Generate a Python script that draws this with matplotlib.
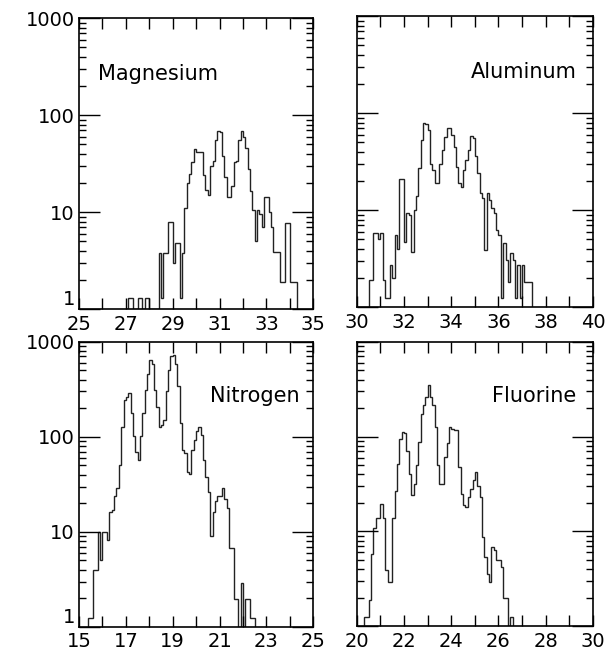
import numpy as np
import matplotlib
matplotlib.use('Agg')
import matplotlib.pyplot as plt
from matplotlib.ticker import LogLocator, NullFormatter

plt.rcParams['font.family'] = 'DejaVu Sans'

BIN = 0.1

# Magnesium, bins of 0.1 starting at 27.0
mg_start = 27.0
mg_counts = [1, 1.3, 1.3, 1, 1, 1.3, 1.3, 1, 1.3, 1.3,
             1, 1, 1, 1, 3.8, 1.3, 3.8, 3.8, 8, 8,
             3, 4.8, 4.8, 1.3, 3.8, 11, 20, 25, 33, 45,
             42, 42, 42, 24, 17, 15, 30, 34, 55, 69,
             67, 38, 23, 14.5, 14.5, 18.5, 33, 34, 56, 69,
             60, 46, 28, 16.5, 10.5, 5, 10.5, 9.5, 7, 14.5,
             14.5, 10, 7, 3.9, 3.9, 3.9, 1.9, 1.9, 7.7, 7.7,
             1.9, 1.9, 1.9]

# Aluminum, starting at 30.5
al_start = 30.5
al_counts = [1.9, 1.9, 5.8, 5.8, 5.0, 5.8, 1.9, 1.24, 1.24, 2.7,
             2.0, 5.6, 4.0, 21, 21, 4.7, 9.3, 9.0, 3.7, 10,
             14, 27, 53, 79, 78, 67, 30, 26, 19, 19,
             30, 42, 57, 70, 70, 60, 45, 28, 19, 17.5,
             26, 33, 42, 58, 55, 36, 24, 15, 13.3, 3.9,
             15, 12.8, 10.5, 9.3, 6.3, 5.6, 1.24, 4.6, 3.1, 1.84,
             3.6, 3.1, 1.24, 2.7, 1.24, 2.7, 1.84, 1.84, 1.84]

# Nitrogen, starting at 15.4
n_start = 15.4
n_counts = [1.25, 1.25, 4, 4, 10, 5, 10, 10, 8.3, 16,
            17, 24, 29, 50, 128, 244, 265, 290, 178, 101,
            70, 57, 101, 178, 310, 460, 640, 590, 310, 207,
            128, 133, 150, 300, 500, 700, 720, 590, 340, 139,
            73, 67, 43, 41, 73, 93, 114, 128, 105, 57,
            38, 26, 9, 16, 21, 24, 24, 29, 22, 18,
            6.8, 6.8, 1.95, 1.95, 1, 2.9, 1, 1.95, 1.95, 1.25,
            1.25]

# Fluorine, starting at 20.3
f_start = 20.3
f_counts = [1.25, 1.25, 1.9, 5.8, 11, 14, 14, 19.6, 14, 3.9,
            2.9, 2.9, 14, 27, 52, 95, 111, 108, 70, 40,
            24, 32, 50, 88, 174, 213, 262, 348, 262, 213,
            127, 50, 32, 32, 61, 85, 127, 121, 117, 117,
            48, 25, 18.8, 18.1, 23, 28, 35, 42, 30, 23,
            8.8, 5.4, 3.6, 2.9, 6.9, 6.3, 4.95, 4.95, 4.2, 2.0,
            2.0, 1, 1.25]

panels = [
    ('Magnesium', mg_start, mg_counts, 25, 35, (0.1295, 0.525, 0.384, 0.447), 0.08, 'left', True),
    ('Aluminum', al_start, al_counts, 30, 40, (0.585, 0.528, 0.387, 0.447), 0.93, 'right', False),
    ('Nitrogen', n_start, n_counts, 15, 25, (0.1295, 0.037, 0.384, 0.438), 0.94, 'right', True),
    ('Fluorine', f_start, f_counts, 20, 30, (0.585, 0.038, 0.387, 0.437), 0.93, 'right', False),
]

fig = plt.figure(figsize=(6.1, 6.51), dpi=100)

for name, start, counts, x0, x1, rect, tx, ha, ylab in panels:
    ax = fig.add_axes(rect)
    counts = np.array(counts, dtype=float)
    edges = np.round(start + BIN * np.arange(len(counts) + 1), 2)
    ax.stairs(counts, edges, baseline=1, color='#222222', lw=1.0)

    ax.set_yscale('log')
    ax.set_ylim(1, 1000)
    ax.set_xlim(x0, x1)

    xt = np.arange(x0, x1 + 1)
    xl = [str(v) if (v - x0) % 2 == 0 else '' for v in xt]
    ax.set_xticks(xt, xl)
    if ylab:
        ax.set_yticks([1, 10, 100, 1000], ['1', '10', '100', '1000'])
    else:
        ax.set_yticks([1, 10, 100, 1000], ['', '', '', ''])
    ax.yaxis.set_minor_locator(LogLocator(base=10, subs=np.arange(2, 10)))
    ax.yaxis.set_minor_formatter(NullFormatter())

    ax.tick_params(which='both', direction='in', top=True, right=True,
                   labelsize=14, width=1.0, color='black')
    ax.tick_params(axis='x', which='major', length=8, pad=4)
    ax.tick_params(axis='y', which='major', length=15, pad=3)
    ax.tick_params(axis='y', which='minor', length=5)
    for s in ax.spines.values():
        s.set_linewidth(1.2)

    # lift the "1" label so it clears the x tick labels
    if ylab:
        lab1 = ax.get_yticklabels()[0]
        lab1.set_verticalalignment('bottom')

    ax.text(tx, 0.81, name, transform=ax.transAxes, ha=ha, va='center',
            fontsize=15)

fig.savefig('out.png', dpi=100)
